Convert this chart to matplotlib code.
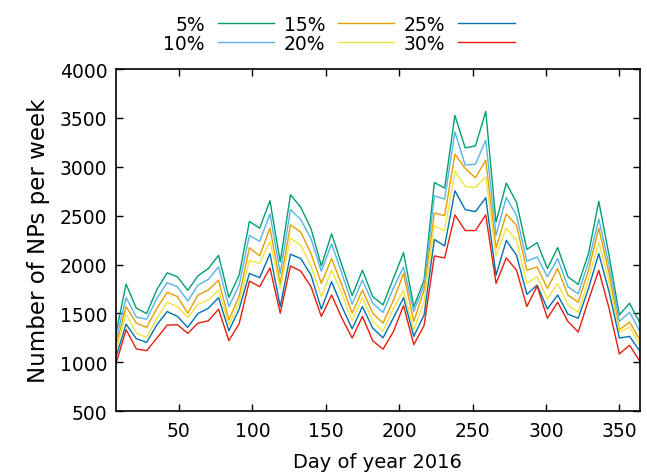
import matplotlib
matplotlib.use("Agg")
import matplotlib.pyplot as plt
import numpy as np

# weekly counts, week ending on day 7, 14, ... 364
days = np.arange(7, 365, 7)

np_5 = [1290, 1800, 1553, 1499, 1746, 1915, 1875, 1736, 1885, 1959,
        2094, 1665, 1891, 2440, 2373, 2653, 2027, 2714, 2586, 2366,
        1986, 2315, 1993, 1682, 1942, 1672, 1587, 1855, 2122, 1570,
        1841, 2840, 2782, 3526, 3194, 3214, 3567, 2434, 2833, 2637,
        2155, 2224, 1959, 2173, 1875, 1797, 2112, 2647, 2094, 1485,
        1604, 1401]
np_10 = [1220, 1661, 1462, 1441, 1655, 1814, 1773, 1627, 1790, 1848,
         1976, 1570, 1790, 2298, 2237, 2518, 1909, 2562, 2460, 2264,
         1932, 2213, 1909, 1594, 1841, 1604, 1510, 1756, 1976, 1521,
         1790, 2704, 2670, 3357, 3018, 3028, 3272, 2298, 2687, 2501,
         2034, 2078, 1875, 2061, 1773, 1700, 2027, 2467, 1993, 1418,
         1512, 1316]
np_15 = [1160, 1570, 1401, 1357, 1553, 1716, 1672, 1502, 1688, 1739,
         1841, 1434, 1672, 2173, 2088, 2373, 1807, 2406, 2332, 2112,
         1807, 2061, 1790, 1502, 1739, 1502, 1401, 1630, 1909, 1418,
         1739, 2528, 2500, 3130, 2984, 2888, 3068, 2170, 2518, 2399,
         1942, 1976, 1756, 1959, 1688, 1614, 1942, 2373, 1909, 1333,
         1411, 1231]
np_20 = [1110, 1492, 1299, 1255, 1451, 1614, 1570, 1458, 1594, 1637,
         1739, 1384, 1604, 2044, 2010, 2237, 1756, 2271, 2196, 1986,
         1672, 1942, 1705, 1424, 1661, 1418, 1320, 1545, 1739, 1333,
         1621, 2399, 2348, 2957, 2799, 2788, 2900, 2094, 2373, 2247,
         1807, 1875, 1648, 1807, 1587, 1512, 1851, 2230, 1824, 1309,
         1357, 1184]
np_25 = [1050, 1390, 1241, 1204, 1384, 1519, 1469, 1357, 1499, 1553,
         1661, 1323, 1543, 1909, 1865, 2112, 1570, 2105, 2061, 1891,
         1543, 1824, 1570, 1343, 1570, 1350, 1250, 1451, 1661, 1265,
         1485, 2257, 2190, 2755, 2562, 2542, 2684, 1891, 2247, 2094,
         1695, 1790, 1546, 1688, 1492, 1451, 1756, 2112, 1722, 1248,
         1265, 1113]
np_30 = [980, 1333, 1136, 1119, 1248, 1380, 1384, 1296, 1401, 1424,
         1543, 1221, 1394, 1831, 1773, 1966, 1502, 1986, 1932, 1773,
         1469, 1688, 1451, 1248, 1469, 1221, 1134, 1310, 1580, 1180,
         1377, 2088, 2068, 2508, 2348, 2348, 2508, 1807, 2068, 1942,
         1570, 1780, 1451, 1614, 1418, 1309, 1637, 1942, 1553, 1086,
         1174, 1011]

labels = ["5%", "10%", "15%", "20%", "25%", "30%"]
series = [np_5, np_10, np_15, np_20, np_25, np_30]
colors = ["#009e73", "#56b4e9", "#e69f00", "#f0e442", "#0072b2", "#e51e10"]

plt.rcParams["font.family"] = "DejaVu Sans"
plt.rcParams["font.size"] = 13

fig = plt.figure(figsize=(6.47, 4.77), dpi=100)
ax = fig.add_axes([0.179, 0.136, 0.81, 0.717])

for vals, lab, col in zip(series, labels, colors):
    ax.plot(days, vals, color=col, lw=1.0, label=lab)

ax.set_xlim(7, 364)
ax.set_ylim(500, 4000)
ax.set_xticks(range(50, 351, 50))
ax.set_yticks(range(500, 4001, 500))
ax.tick_params(direction="in", top=True, right=True, length=5, width=1,
               labelsize=13.5)
ax.tick_params(axis="x", pad=7)
ax.tick_params(axis="y", pad=6)
for s in ax.spines.values():
    s.set_linewidth(1.2)

ax.set_xlabel("Day of year 2016", fontsize=14, labelpad=9)
ax.set_ylabel("Number of NPs per week", fontsize=16.5, labelpad=7)

fig.legend(loc="center", bbox_to_anchor=(339 / 647, 1 - 35 / 477),
           ncol=3, frameon=False, markerfirst=False, fontsize=13.5,
           handlelength=3.0, handletextpad=0.7, columnspacing=0.5,
           labelspacing=0.0, borderpad=0.0)

fig.savefig("out.png", dpi=100)
